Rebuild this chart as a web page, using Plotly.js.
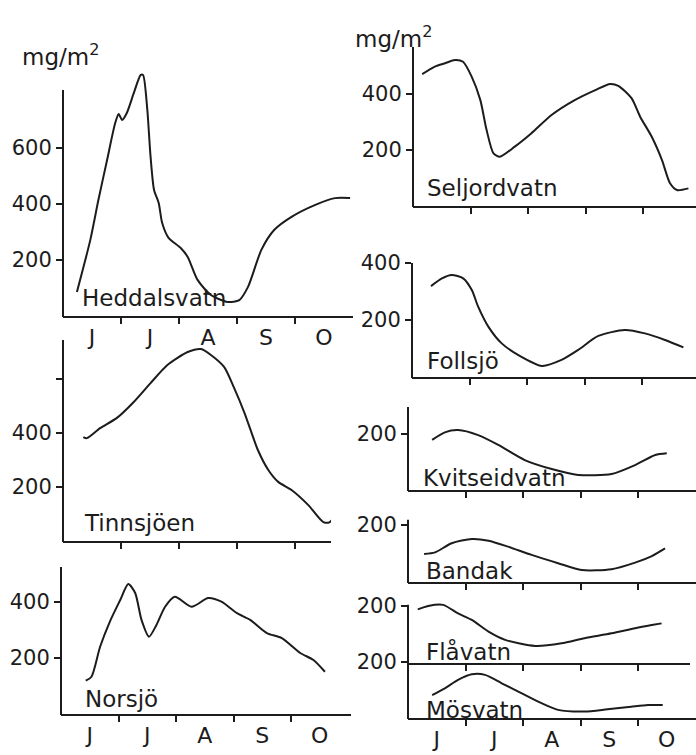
<!DOCTYPE html>
<html><head><meta charset="utf-8">
<script src="https://cdn.plot.ly/plotly-3.0.1.min.js"></script>
<style>html,body{margin:0;padding:0;background:#fff}</style>
</head><body><div id="chart" style="width:696px;height:755px"></div>
<script>
// ---- data (x = months since 1 June, y = mg/m2) ----
const monthLabels = ['J','J','A','S','O'];
const monthLabelPos = [0.5,1.5,2.5,3.5,4.5];
const monthBounds = [1,2,3,4];

const heddalsvatnT = [0.24,0.47,0.61,0.76,0.90,0.96,1.02,1.10,1.22,1.34,1.38,1.45,1.51,1.57,1.65,1.71,1.82,2.03,2.15,2.32,2.55,2.84,3.04,3.19,3.42,3.64,3.94,4.34,4.69,4.95];
const heddalsvatnV = [86,271,414,557,689,721,700,725,796,861,861,746,568,450,404,332,279,243,211,129,75,50,57,104,236,307,354,396,421,421];

const tinnsjoenT = [0.35,0.41,0.64,0.93,1.22,1.51,1.80,2.15,2.38,2.55,2.78,2.95,3.13,3.36,3.54,3.71,3.94,4.23,4.49,4.60,4.72];
const tinnsjoenV = [385,381,418,456,515,585,652,700,711,689,644,567,474,337,263,219,189,133,70,70,104];

const norsjoT = [0.43,0.53,0.68,0.85,1.03,1.17,1.29,1.40,1.53,1.66,1.81,1.98,2.27,2.56,2.79,3.06,3.29,3.58,3.84,4.16,4.39,4.59];
const norsjoV = [119,133,240,330,407,464,432,336,276,318,383,419,383,414,401,360,336,289,271,218,193,151];

const seljordvatnT = [0.16,0.38,0.56,0.73,0.87,1.02,1.17,1.28,1.40,1.51,1.77,2.06,2.41,2.82,3.17,3.43,3.57,3.80,3.95,4.15,4.33,4.47,4.59,4.79];
const seljordvatnV = [471,498,510,521,515,462,379,271,188,176,212,260,325,379,414,436,429,385,319,248,164,81,57,63];

const follsjoT = [0.33,0.52,0.69,0.89,1.04,1.15,1.33,1.56,1.85,2.26,2.60,2.89,3.24,3.70,4.05,4.40,4.72];
const follsjoV = [319,346,358,346,305,247,176,118,77,39,60,95,144,165,153,130,104];

const kvitseidvatnT = [0.42,0.64,0.87,1.22,1.57,2.03,2.50,2.96,3.54,3.95,4.30,4.50];
const kvitseidvatnV = [179,206,214,196,161,107,75,54,57,89,125,131];

const bandakT = [0.28,0.47,0.76,1.11,1.40,1.74,2.15,2.61,3.02,3.54,3.95,4.24,4.47];
const bandakV = [98,104,136,151,145,124,95,66,42,45,68,91,118];

const flavatnT = [0.17,0.35,0.61,0.87,1.11,1.40,1.69,2.21,2.67,3.07,3.54,3.95,4.24,4.41];
const flavatnV = [188,200,204,174,151,110,81,60,69,87,104,122,133,139];

const mosvatnT = [0.42,0.64,0.87,1.11,1.34,1.63,1.98,2.32,2.61,3.07,3.47,3.88,4.17,4.43];
const mosvatnV = [82,106,136,156,154,124,88,53,29,23,31,40,46,46];

const panelNames = ['Heddalsvatn','Tinnsjöen','Norsjö','Seljordvatn','Follsjö','Kvitseidvatn','Bandak','Flåvatn','Mösvatn'];

// ---- layout geometry (pixels) ----
const W = 696, H = 755;
const INK = '#1c1c1c';
const FONT = 'DejaVu Sans';
const panels = [
  {t:heddalsvatnT, v:heddalsvatnV, x0:63, y0:316, pxm:58, xlen:290, pyu:0.28, axTop:807, yMax:895, ticks:[200,400,600], ttext:['200','400','600'], months:true, lab:[80,298]},
  {t:tinnsjoenT, v:tinnsjoenV, x0:63, y0:541, pxm:58, xlen:268, pyu:0.27, axTop:744, yMax:760, ticks:[200,400,600], ttext:['200','400',' '], months:false, lab:[82,523]},
  {t:norsjoT, v:norsjoV, x0:61, y0:714, pxm:57.5, xlen:290, pyu:0.28, axTop:525, yMax:540, ticks:[200,400], ttext:['200','400'], months:true, lab:[83,699]},
  {t:seljordvatnT, v:seljordvatnV, x0:413, y0:206, pxm:57.5, xlen:283, pyu:0.28, axTop:568, yMax:580, ticks:[200,400], ttext:['200','400'], months:false, lab:[425,188]},
  {t:follsjoT, v:follsjoV, x0:412, y0:377, pxm:57.5, xlen:284, pyu:0.285, axTop:400, yMax:415, ticks:[200,400], ttext:['200','400'], months:false, lab:[425,361]},
  {t:kvitseidvatnT, v:kvitseidvatnV, x0:408, y0:490, pxm:57.5, xlen:288, pyu:0.28, axTop:296, yMax:305, ticks:[200], ttext:['200'], months:false, lab:[421,478]},
  {t:bandakT, v:bandakV, x0:408, y0:582, pxm:57.5, xlen:288, pyu:0.285, axTop:218, yMax:225, ticks:[200], ttext:['200'], months:false, lab:[424,571]},
  {t:flavatnT, v:flavatnV, x0:408, y0:663, pxm:57.5, xlen:282, pyu:0.285, axTop:204, yMax:215, ticks:[200], ttext:['200'], months:false, lab:[424,651]},
  {t:mosvatnT, v:mosvatnV, x0:408, y0:718, pxm:57.5, xlen:288, pyu:0.28, axTop:196, yMax:205, ticks:[200], ttext:['200'], months:true, lab:[424,710]}
];

const px = p => p / W;
const py = p => 1 - p / H;

const data = [];
const layout = {
  width: W, height: H,
  margin: {l:0, r:0, t:0, b:0},
  paper_bgcolor: '#ffffff',
  plot_bgcolor: 'rgba(0,0,0,0)',
  showlegend: false,
  font: {family: FONT, color: INK, size: 21},
  shapes: [], annotations: []
};

panels.forEach((p, i) => {
  const n = i + 1;
  const xa = 'x' + (n === 1 ? '' : n), ya = 'y' + (n === 1 ? '' : n);
  const xk = 'xaxis' + (n === 1 ? '' : n), yk = 'yaxis' + (n === 1 ? '' : n);
  data.push({
    x: p.t, y: p.v, xaxis: xa, yaxis: ya,
    type: 'scatter', mode: 'lines',
    line: {color: INK, width: 2, shape: 'spline', smoothing: 0.7},
    hoverinfo: 'skip'
  });
  const xEnd = Math.min(p.x0 + p.xlen, W);
  layout[xk] = {
    domain: [px(p.x0), px(xEnd)],
    range: [0, (xEnd - p.x0) / p.pxm],
    anchor: ya,
    showgrid: false, zeroline: false,
    showline: true, linecolor: INK, linewidth: 2,
    tickmode: 'array', tickvals: monthLabelPos, ticktext: monthLabels,
    ticks: '', showticklabels: p.months,
    ticklabelstandoff: 1,
    tickfont: {family: FONT, size: 22, color: INK},
    minor: {tickmode: 'array', tickvals: monthBounds, ticks: 'outside', ticklen: 6, tickwidth: 2, tickcolor: INK},
    fixedrange: true
  };
  layout[yk] = {
    domain: [py(p.y0), py(p.y0 - p.yMax * p.pyu)],
    range: [0, p.yMax],
    anchor: xa,
    showgrid: false, zeroline: false, showline: false,
    tickmode: 'array', tickvals: p.ticks, ticktext: p.ttext,
    ticks: 'outside', ticklen: 6, tickwidth: 2, tickcolor: INK,
    tickfont: {family: FONT, size: 21, color: INK},
    fixedrange: true
  };
  // vertical axis line (only up to its drawn height)
  layout.shapes.push({
    type: 'line', xref: 'paper', yref: 'paper',
    x0: px(p.x0), x1: px(p.x0),
    y0: py(p.y0 + 1), y1: py(p.y0 - p.axTop * p.pyu),
    line: {color: INK, width: 2}
  });
  layout.annotations.push({
    xref: 'paper', yref: 'paper', x: px(p.lab[0]), y: py(p.lab[1]),
    xanchor: 'left', yanchor: 'middle', showarrow: false,
    text: panelNames[i], font: {family: FONT, size: 23, color: INK}
  });
});

layout.annotations.push(
  {xref:'paper', yref:'paper', x:px(20), y:py(55), xanchor:'left', yanchor:'middle', showarrow:false,
   text:'mg/m<sup>2</sup>', font:{family:FONT, size:23, color:INK}},
  {xref:'paper', yref:'paper', x:px(353), y:py(37), xanchor:'left', yanchor:'middle', showarrow:false,
   text:'mg/m<sup>2</sup>', font:{family:FONT, size:23, color:INK}}
);

Plotly.newPlot('chart', data, layout, {staticPlot: true, displayModeBar: false});
</script></body></html>
